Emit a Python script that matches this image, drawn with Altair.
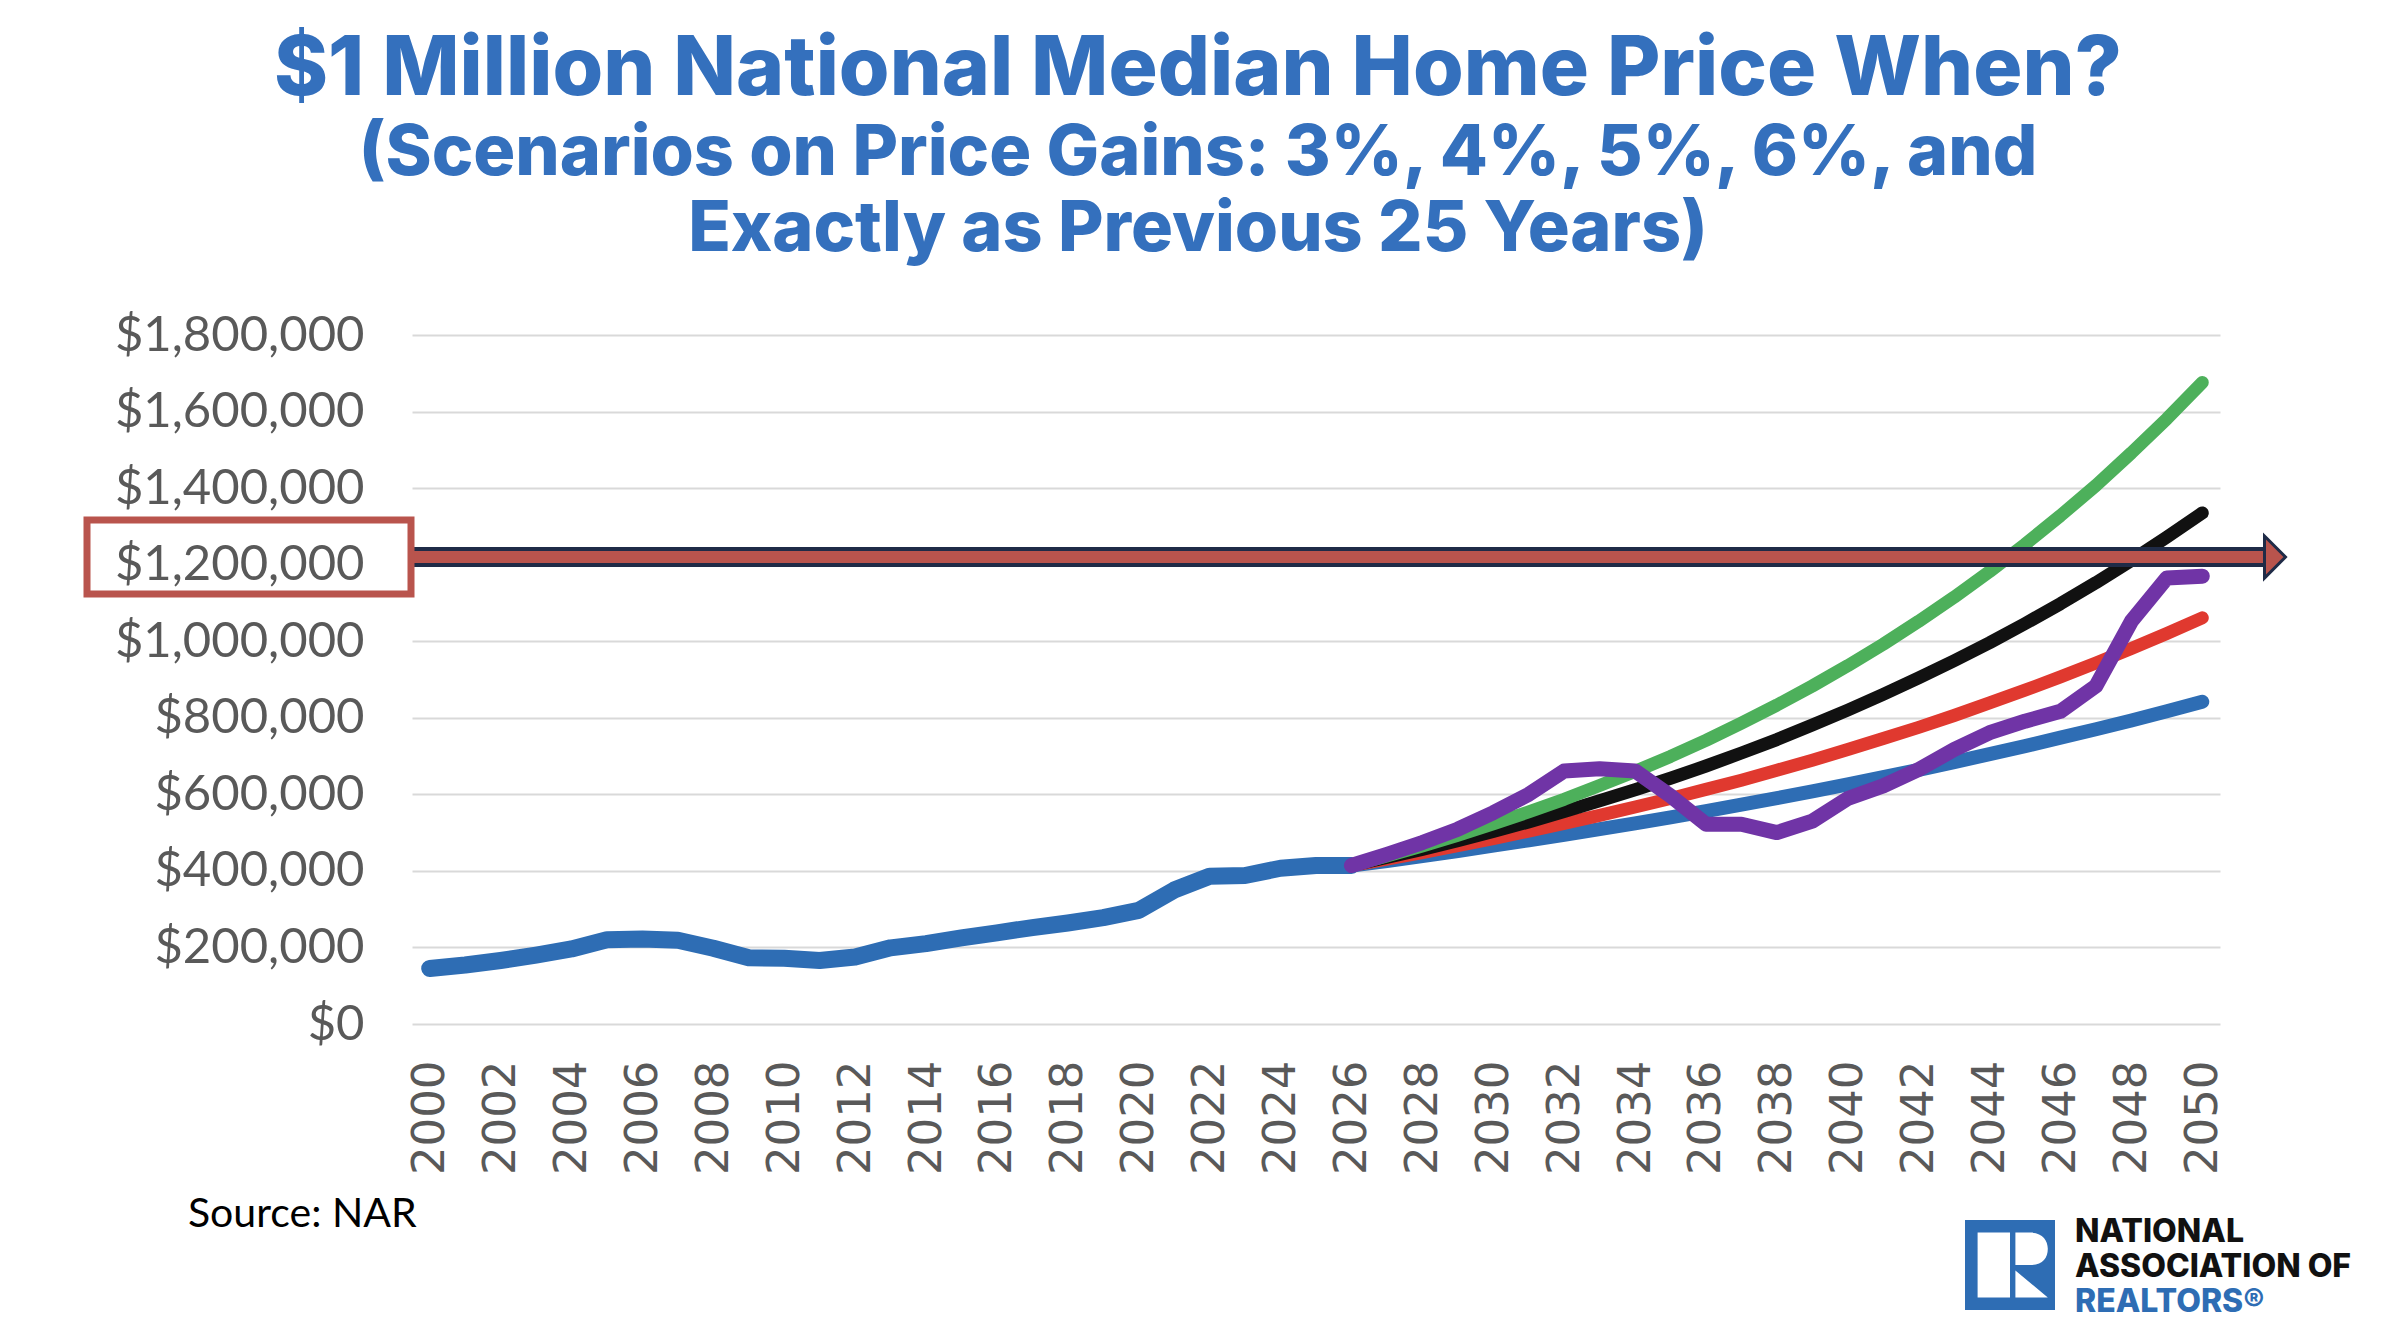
import altair as alt
import pandas as pd

# ---- data -------------------------------------------------------------
hist_years = list(range(2000, 2027))
hist_values = [145000, 154000, 166000, 180000, 196000, 220000, 222000, 219000,
               198000, 173000, 172000, 166000, 175000, 199000, 210000, 225000,
               238000, 252000, 264000, 278000, 297000, 350000, 386000, 388000,
               407000, 414000, 414000]

proj_years = list(range(2026, 2051))
gain_3 = [414000, 426000, 439000, 452000, 466000, 480000, 494000, 509000, 524000,
          540000, 556000, 573000, 590000, 608000, 626000, 645000, 664000, 684000,
          705000, 726000, 748000, 770000, 793000, 817000, 842000]
gain_4 = [414000, 431000, 448000, 466000, 484000, 504000, 524000, 545000, 567000,
          589000, 613000, 637000, 663000, 689000, 717000, 746000, 775000, 806000,
          839000, 872000, 907000, 943000, 981000, 1020000, 1061000]
gain_5 = [414000, 435000, 456000, 479000, 503000, 528000, 555000, 583000, 612000,
          642000, 674000, 708000, 743000, 781000, 820000, 861000, 904000, 949000,
          996000, 1046000, 1098000, 1153000, 1211000, 1272000, 1335000]
gain_6 = [414000, 439000, 465000, 493000, 523000, 554000, 587000, 623000, 660000,
          699000, 741000, 786000, 833000, 883000, 936000, 992000, 1052000, 1115000,
          1182000, 1253000, 1328000, 1407000, 1492000, 1581000, 1676000]
repeat_25 = [414000, 443000, 474000, 509000, 552000, 600000, 661000, 667000, 661000,
             596000, 522000, 522000, 500000, 530000, 589000, 622000, 665000, 717000,
             761000, 791000, 817000, 883000, 1052000, 1165000, 1170000]

x_tick_years = list(range(2000, 2051, 2))
y_ticks = list(range(0, 1800001, 200000))

title_main = "$1 Million National Median Home Price When?"
title_sub = ["(Scenarios on Price Gains: 3%, 4%, 5%, 6%, and",
             "Exactly as Previous 25 Years)"]

# ---- styling -----------------------------------------------------------
TITLE_BLUE = "#3470BD"
LINE_BLUE = "#2E6DB4"
RED = "#E0392F"
BLACK = "#111111"
GREEN = "#4DB05B"
PURPLE = "#7034A6"
BOX_RED = "#B9544D"
NAVY = "#1F2B47"
GRAY_TEXT = "#595959"

W, H = 1808, 689

series = [
    ("Historical", hist_years, hist_values, LINE_BLUE, 17),
    ("3%", proj_years, gain_3, LINE_BLUE, 14),
    ("4%", proj_years, gain_4, RED, 13),
    ("5%", proj_years, gain_5, BLACK, 13),
    ("6%", proj_years, gain_6, GREEN, 13),
    ("Previous 25 Years", proj_years, repeat_25, PURPLE, 15),
]

x_scale = alt.Scale(domain=[1999.5, 2050.5], nice=False, zero=False)
y_scale = alt.Scale(domain=[0, 1800000], nice=False)

x_axis = alt.Axis(values=x_tick_years, format="d", labelAngle=270,
                  labelFont="DejaVu Sans", labelFontSize=45, labelColor=GRAY_TEXT,
                  labelPadding=36, domain=False, ticks=False, grid=False, title=None,
                  labelOverlap=False, labelLimit=0)
y_axis = alt.Axis(values=y_ticks, format="$,.0f", labelFont="Lato", labelFontSize=49,
                  labelColor=GRAY_TEXT, labelPadding=48, domain=False, ticks=False,
                  grid=True, gridColor="#D9D9D9", gridWidth=2, title=None,
                  labelLimit=0)

layers = []
for name, yrs, vals, color, sw in series:
    df = pd.DataFrame({"year": yrs, "price": vals, "series": name})
    layers.append(
        alt.Chart(df).mark_line(color=color, strokeWidth=sw, strokeCap="round",
                                strokeJoin="round").encode(
            x=alt.X("year:Q", scale=x_scale, axis=x_axis),
            y=alt.Y("price:Q", scale=y_scale, axis=y_axis),
        )
    )

one = pd.DataFrame({"k": [0]})

# highlight arrow at the $1.2M level
arrow_outer = alt.Chart(one).mark_rule(color=NAVY, strokeWidth=20).encode(
    x=alt.value(0), x2=alt.value(1853), y=alt.Y(datum=1220000, scale=y_scale))
arrow_inner = alt.Chart(one).mark_rule(color=BOX_RED, strokeWidth=12).encode(
    x=alt.value(0), x2=alt.value(1855), y=alt.Y(datum=1220000, scale=y_scale))
arrow_head = alt.Chart(one).mark_point(
    shape="M -0.5 -1 L 0.5 0 L -0.5 1 Z", filled=True, fill=BOX_RED, stroke=NAVY,
    strokeWidth=3, opacity=1, size=1764).encode(
    x=alt.value(1863), y=alt.Y(datum=1220000, scale=y_scale))

# box around the $1,200,000 label
label_box = alt.Chart(one).mark_rect(fillOpacity=0, stroke=BOX_RED, strokeWidth=7).encode(
    x=alt.value(-325), x2=alt.value(-1), y=alt.value(185), y2=alt.value(259))

source = alt.Chart(one).mark_text(text="Source: NAR", font="Lato", fontSize=41,
                                  color="#000000", align="left", baseline="middle").encode(
    x=alt.value(-224), y=alt.value(880))

# NAR logo
logo_sq = alt.Chart(one).mark_point(
    shape="M -1 -1 L 1 -1 L 1 1 L -1 1 Z", filled=True, fill=LINE_BLUE, strokeWidth=0,
    opacity=1, size=8100).encode(x=alt.value(1598), y=alt.value(930))
logo_r = alt.Chart(one).mark_point(
    shape=("M -0.72 -0.72 L 0 -0.72 L 0 0.72 L -0.72 0.72 Z "
           "M 0.12 -0.72 L 0.45 -0.72 C 0.72 -0.72 0.84 -0.55 0.84 -0.36 "
           "C 0.84 -0.15 0.72 0 0.45 0 L 0.12 0 Z "
           "M 0.12 0.12 L 0.84 0.72 L 0.12 0.72 Z"),
    filled=True, fill="#FFFFFF", strokeWidth=0, opacity=1, size=8100).encode(
    x=alt.value(1598), y=alt.value(930))
logo_lines = [("NATIONAL", "#111111", 897), ("ASSOCIATION OF", "#111111", 932),
              ("REALTORS\u00ae", LINE_BLUE, 967)]
logo_text = [
    alt.Chart(one).mark_text(text=t, font="Inter", fontSize=32, fontWeight=800,
                             color=c, align="left", baseline="middle").encode(
        x=alt.value(1663), y=alt.value(yy))
    for t, c, yy in logo_lines
]

chart = alt.layer(
    *layers, arrow_outer, arrow_inner, arrow_head, label_box, source,
    logo_sq, logo_r, *logo_text
).properties(
    width=W, height=H,
    title=alt.TitleParams(
        text=title_main, subtitle=title_sub, anchor="middle", frame="group", dx=-118,
        font="Inter", fontSize=82, fontWeight=800, color=TITLE_BLUE,
        subtitleFont="Inter", subtitleFontSize=70, subtitleFontWeight=800,
        subtitleColor=TITLE_BLUE, subtitleLineHeight=76, subtitlePadding=8, offset=45),
    autosize=alt.AutoSizeParams(type="none"),
    padding={"left": 412, "top": 335, "right": 176, "bottom": 320},
    background="#FFFFFF",
).configure_view(stroke=None)

chart.save("out.html", embed_options={"renderer": "svg", "actions": False})
